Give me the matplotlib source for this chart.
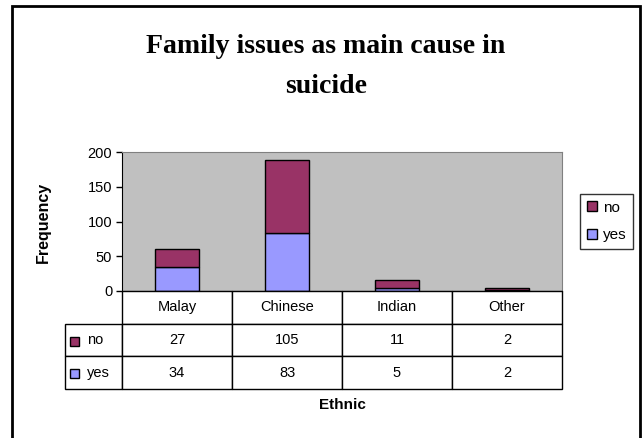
import numpy as np
import matplotlib
matplotlib.use('Agg')
import matplotlib.pyplot as plt
from matplotlib.patches import Rectangle

plt.rcParams['font.family'] = ['Liberation Sans', 'DejaVu Sans']

# data
ethnic = ['Malay', 'Chinese', 'Indian', 'Other']
no_counts = [27, 105, 11, 2]
yes_counts = [34, 83, 5, 2]
series = ['no', 'yes']
colors = {'no': '#993366', 'yes': '#9999FF'}
yticks = [0, 50, 100, 150, 200]
title_lines = ['Family issues as main cause in', 'suicide']

W, H = 644, 438

def box(x0, y0, x1, y1):
    # pixel box (top-left origin) -> figure fraction rect
    return [x0 / W, 1 - y1 / H, (x1 - x0) / W, (y1 - y0) / H]

fig = plt.figure(figsize=(W / 100, H / 100), dpi=100)

# outer chart frame
fig.add_artist(Rectangle((12 / W, -0.05), (640 - 12) / W, 1 - 6 / H + 0.05,
                         transform=fig.transFigure, fill=False, ec='black', lw=2))

ax = fig.add_axes(box(122, 152, 562, 291))
x = np.arange(len(ethnic))
ax.bar(x, yes_counts, 0.4, color=colors['yes'], edgecolor='black', lw=1, label='yes')
ax.bar(x, no_counts, 0.4, bottom=yes_counts, color=colors['no'], edgecolor='black', lw=1, label='no')
ax.set_xlim(-0.5, len(ethnic) - 0.5)
ax.set_ylim(0, 200)
ax.set_yticks(yticks)
ax.set_xticks([])
ax.set_facecolor('#C0C0C0')
ax.tick_params(axis='y', labelsize=10.5, length=4, width=1, pad=3)
for s in ['top', 'right']:
    ax.spines[s].set_color('#808080')
for s in ['left', 'bottom']:
    ax.spines[s].set_color('black')

# data table under the plot
tax = fig.add_axes(box(65, 291, 562, 389))
tax.axis('off')
cells = [[''] + ethnic,
         ['no'] + [str(v) for v in no_counts],
         ['yes'] + [str(v) for v in yes_counts]]
widths = [57] + [110] * len(ethnic)
tbl = tax.table(cellText=cells, colWidths=[w / sum(widths) for w in widths],
                cellLoc='center', bbox=[0, 0, 1, 1])
tbl.auto_set_font_size(False)
tbl.set_fontsize(10.5)
for (r, c), cell in tbl.get_celld().items():
    cell.set_linewidth(1)
tbl[0, 0].visible_edges = ''
for r in (1, 2):
    tbl[r, 0]._loc = 'left'
    tbl[r, 0].PAD = 0.38
    tbl[r, 0].get_text().set_ha('left')

# little colour keys inside the table
row_mid = {'no': 341, 'yes': 373}
for name in series:
    fig.add_artist(Rectangle((70 / W, 1 - (row_mid[name] + 4.5) / H), 9 / W, 9 / H,
                             transform=fig.transFigure, fc=colors[name], ec='black', lw=1))

# legend
handles, labels = ax.get_legend_handles_labels()
leg = fig.legend(handles[::-1], labels[::-1], loc='center',
                 bbox_to_anchor=(606.5 / W, 1 - 221.5 / H), fontsize=11,
                 frameon=True, fancybox=False, edgecolor='black',
                 handlelength=0.65, handleheight=0.65, handletextpad=0.4,
                 labelspacing=0.9, borderpad=0.45, borderaxespad=0)
leg.get_frame().set_linewidth(1)

for y, line in zip([53, 93], title_lines):
    fig.text(326 / W, 1 - y / H, line, ha='center', va='baseline',
             family='Liberation Serif', weight='bold', size=20)
fig.text(43 / W, 1 - 222 / H, 'Frequency', rotation=90, ha='center', va='center',
         weight='bold', size=11.5)
fig.text(342 / W, 1 - 405 / H, 'Ethnic', ha='center', va='center', weight='bold', size=11)

fig.savefig('out.png', dpi=100)
